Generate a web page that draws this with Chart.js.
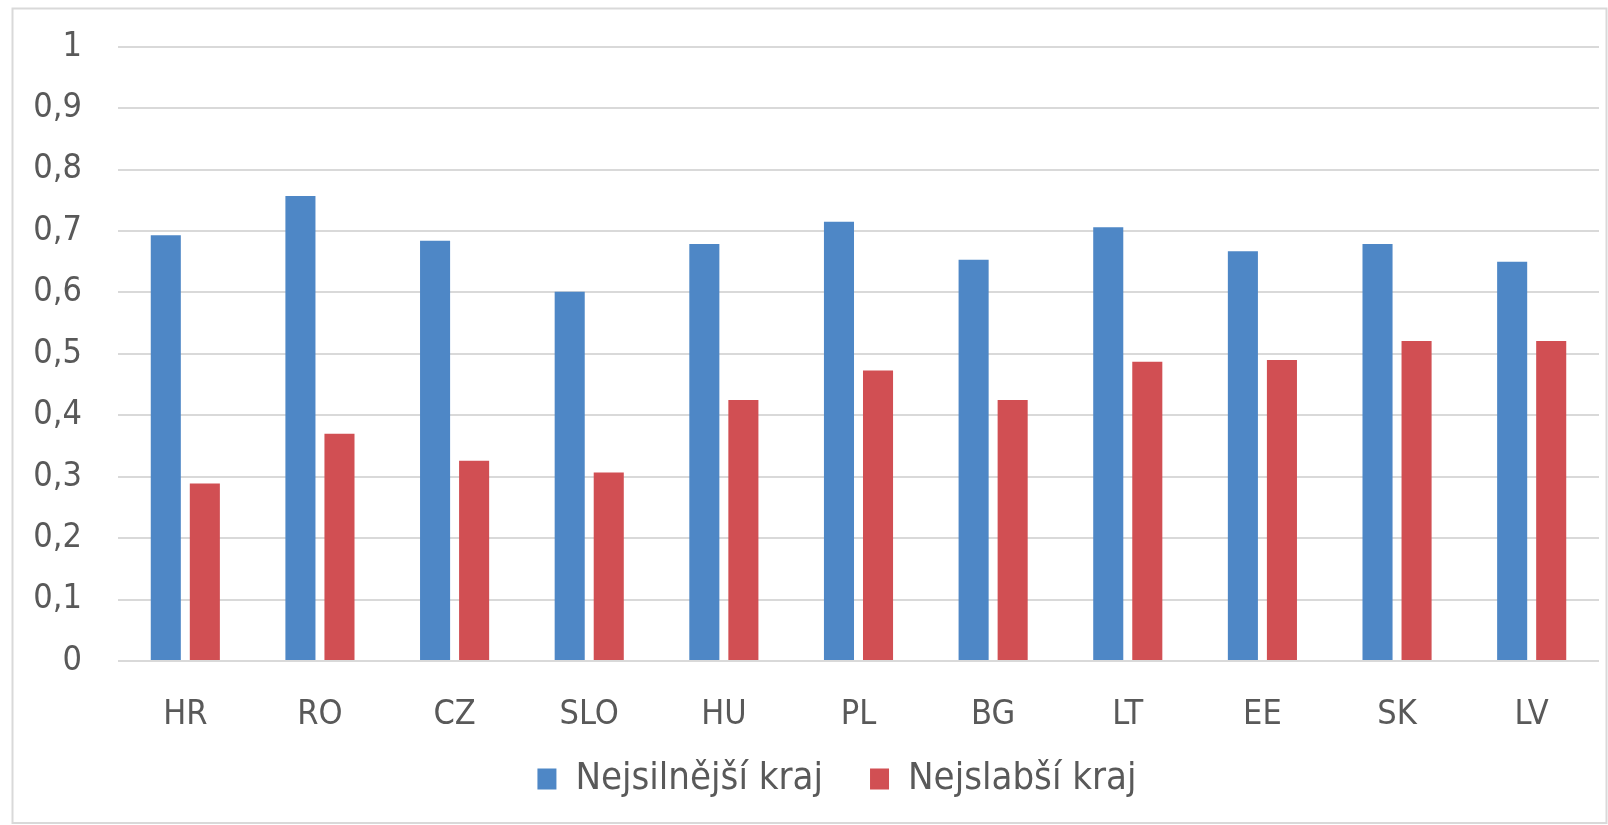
<!DOCTYPE html>
<html>
<head>
<meta charset="utf-8">
<script src="https://cdn.jsdelivr.net/npm/chart.js@4"></script>
<style>
  html, body { margin: 0; padding: 0; background: #ffffff; }
  #wrap { position: absolute; left: 0; top: 0; width: 1608px; height: 825px; }
</style>
</head>
<body>
<div id="wrap"><canvas id="c" width="1608" height="825"></canvas></div>
<script>
const categories = ['HR', 'RO', 'CZ', 'SLO', 'HU', 'PL', 'BG', 'LT', 'EE', 'SK', 'LV'];
const seriesNames = ['Nejsilnější kraj', 'Nejslabší kraj'];
const strongest = [0.693, 0.757, 0.684, 0.601, 0.679, 0.715, 0.653, 0.706, 0.667, 0.679, 0.650];
const weakest   = [0.289, 0.370, 0.326, 0.307, 0.425, 0.473, 0.425, 0.487, 0.490, 0.521, 0.521];
const yMin = 0, yMax = 1, yStep = 0.1;

const FONT = "'DejaVu Sans Condensed', 'Liberation Sans Narrow', 'Roboto', sans-serif";
const TEXT = '#595959';
const GRID = '#d9d9d9';

const framePlugin = {
  id: 'frame',
  beforeDraw(chart) {
    const ctx = chart.ctx;
    ctx.save();
    ctx.fillStyle = '#ffffff';
    ctx.fillRect(0, 0, chart.width, chart.height);
    ctx.strokeStyle = GRID;
    ctx.lineWidth = 2;
    ctx.strokeRect(12.5, 8.5, 1594, 814.5);
    ctx.restore();
  }
};

const legendShift = {
  id: 'legendShift',
  afterLayout(chart) {
    const lg = chart.legend;
    if (!lg) return;
    const dx = 37.5, dy = -17;
    lg.left += dx; lg.right += dx;
    lg.top += dy; lg.bottom += dy;
  }
};

new Chart(document.getElementById('c'), {
  type: 'bar',
  data: {
    labels: categories,
    datasets: [
      { label: seriesNames[0], data: strongest, backgroundColor: '#4e87c6', borderWidth: 0,
        categoryPercentage: 0.58, barPercentage: 0.77 },
      { label: seriesNames[1], data: weakest, backgroundColor: '#d14f53', borderWidth: 0,
        categoryPercentage: 0.58, barPercentage: 0.77 }
    ]
  },
  options: {
    responsive: false,
    animation: false,
    devicePixelRatio: 1,
    layout: { padding: { top: 46.7, left: 0, right: 9, bottom: 0 } },
    scales: {
      x: {
        afterFit(scale) { scale.height = 69; },
        grid: { display: false },
        border: { display: false },
        ticks: { color: TEXT, font: { family: FONT, size: 34 }, padding: 26, maxRotation: 0 }
      },
      y: {
        min: yMin, max: yMax,
        afterFit(scale) { scale.width = 118; scale.paddingTop = 0; scale.paddingBottom = 0; },
        grid: { color: GRID, lineWidth: 2, drawTicks: false },
        border: { display: false },
        ticks: {
          stepSize: yStep,
          color: TEXT,
          font: { family: FONT, size: 34 },
          padding: 36,
          callback: (v) => (Math.round(v * 10) / 10).toString().replace('.', ',')
        }
      }
    },
    plugins: {
      tooltip: { enabled: false },
      legend: {
        position: 'bottom',
        labels: {
          color: TEXT,
          font: { family: FONT, size: 38 },
          boxWidth: 19,
          boxHeight: 21,
          padding: 47
        }
      }
    }
  },
  plugins: [framePlugin, legendShift]
});
</script>
</body>
</html>
